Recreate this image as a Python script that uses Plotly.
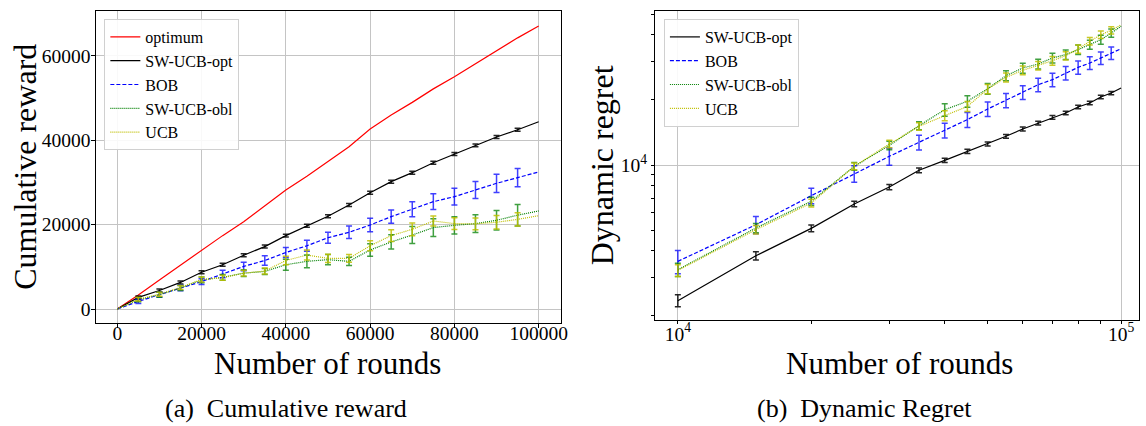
import plotly.graph_objects as go

# ---------------- Left panel: cumulative reward ----------------
rounds = [0, 5000, 10000, 15000, 20000, 25000, 30000, 35000, 40000, 45000, 50000,
          55000, 60000, 65000, 70000, 75000, 80000, 85000, 90000, 95000, 100000]

optimum = [0, 3300, 6900, 10400, 14000, 17400, 20700, 24400, 28200, 31500, 34900,
           38500, 42700, 46000, 49000, 52200, 55100, 58200, 61200, 64300, 67100]
sw_ucb_opt = [0, 2750, 4400, 6300, 8700, 10500, 12750, 14800, 17400, 19750, 22000,
              24670, 27590, 30200, 32330, 34700, 36770, 38800, 40800, 42500, 44400]
bob = [0, 1800, 3400, 5000, 6500, 8300, 10100, 11500, 13400, 15000, 16900,
       18190, 19920, 21900, 23650, 25450, 26640, 28230, 29810, 31150, 32500]
sw_ucb_obl = [0, 2200, 3400, 5000, 6900, 7500, 8500, 8900, 10500, 11300, 11700,
              11300, 14000, 15900, 17550, 19300, 19850, 20240, 21040, 22250, 23250]
ucb = [0, 2300, 3500, 5100, 7000, 7400, 8500, 9000, 11500, 12800, 12000,
       12000, 15000, 17400, 18900, 20870, 20240, 20200, 20570, 21250, 22130]

err_rounds = rounds[1:-1]
err_opt = [350] * 19
err_bob = [500, 600, 700, 700, 900, 1000, 1100, 1200, 1300, 1300,
           1500, 1580, 1580, 1780, 1860, 1980, 2000, 2170, 2170]
err_obl = [500, 600, 600, 700, 700, 800, 700, 1300, 1500, 1200,
           1000, 1470, 1700, 2000, 2100, 2050, 2100, 2300, 2560]
err_ucb = [400, 500, 500, 600, 600, 700, 700, 1000, 1200, 1000,
           900, 1200, 1400, 1500, 1200, 1400, 1400, 1600, 1580]

x_ticks_left = [0, 20000, 40000, 60000, 80000, 100000]
y_ticks_left = [0, 20000, 40000, 60000]

# ---------------- Right panel: dynamic regret (log-log) ----------------
rounds_r = [10000, 15000, 20000, 25000, 30000, 35000, 40000, 45000, 50000, 55000,
            60000, 65000, 70000, 75000, 80000, 85000, 90000, 95000, 100000]
reg_opt = [2355, 3800, 5090, 6600, 7910, 9450, 10510, 11570, 12510, 13580,
           14680, 15630, 16620, 17410, 18560, 19360, 20650, 21540, 22730]
reg_bob = [3580, 5290, 7210, 9120, 10970, 12740, 14470, 16220, 18160, 19920,
           21690, 23530, 24830, 26670, 28330, 29670, 31280, 33000, 34570]
reg_obl = [3275, 5110, 6790, 9860, 12330, 15210, 18030, 19720, 22550, 25920,
           28120, 29360, 31280, 32430, 34200, 36070, 38040, 40840, 43860]
reg_ucb = [3250, 5020, 6670, 9860, 12510, 15100, 16920, 18680, 22470, 25450,
           27440, 28840, 30400, 32070, 34450, 37410, 40100, 42050, 44640]

rerr_rounds = rounds_r[:-1]
rerr_opt = [150, 170, 180, 200, 220, 240, 250, 260, 270, 280, 300, 310, 320, 330, 340, 350, 360, 380]
rerr_bob = [440, 480, 600, 800, 1000, 1000, 1150, 1300, 1400, 1500, 1600, 1700, 1800, 1900, 2000, 2000, 2100, 2200]
rerr_obl = [230, 250, 300, 400, 550, 650, 1200, 1200, 1300, 1400, 1500, 1500, 1600, 1600, 1700, 1700, 1800, 1800]
rerr_ucb = [200, 230, 280, 350, 500, 600, 900, 1000, 1100, 1200, 1300, 1300, 1400, 1400, 1500, 1500, 1600, 1600]

x_ticks_right = [10000, 100000]
x_labels_right = ["10<sup>4</sup>", "10<sup>5</sup>"]
y_ticks_right = [10000]
y_labels_right = ["10<sup>4</sup>"]
minor_y_right = [2000, 3000, 4000, 5000, 6000, 7000, 8000, 9000, 20000, 30000, 40000, 50000]
minor_x_right = [20000, 30000, 40000, 50000, 60000, 70000, 80000, 90000]

FONT = "Liberation Serif"
W, H = 1146, 426

fig = go.Figure()

styles = {
    "optimum": dict(color="#ff0000", dash="solid"),
    "SW-UCB-opt": dict(color="#000000", dash="solid"),
    "BOB": dict(color="#0000ff", dash="4px,2px"),
    "SW-UCB-obl": dict(color="#008000", dash="1px,1px"),
    "UCB": dict(color="#bfbf00", dash="1px,1px"),
}
err_colors = {
    "SW-UCB-opt": "rgba(0,0,0,0.85)",
    "BOB": "rgba(0,0,255,0.75)",
    "SW-UCB-obl": "rgba(0,128,0,0.75)",
    "UCB": "rgba(191,191,0,0.85)",
}

left_series = [("optimum", optimum, None), ("SW-UCB-opt", sw_ucb_opt, err_opt),
               ("BOB", bob, err_bob), ("SW-UCB-obl", sw_ucb_obl, err_obl), ("UCB", ucb, err_ucb)]
for name, ys, errs in left_series:
    st = styles[name]
    fig.add_trace(go.Scatter(x=rounds, y=ys, mode="lines", name=name,
                             line=dict(color=st["color"], width=1.2, dash=st["dash"]),
                             xaxis="x", yaxis="y", legend="legend"))
for name, ys, errs in left_series:
    if errs is None:
        continue
    fig.add_trace(go.Scatter(x=err_rounds, y=ys[1:-1], mode="markers", showlegend=False,
                             marker=dict(size=1, opacity=0),
                             error_y=dict(type="data", array=errs, visible=True,
                                          color=err_colors[name], thickness=1.5, width=3),
                             xaxis="x3", yaxis="y", hoverinfo="skip"))

right_series = [("SW-UCB-opt", reg_opt, rerr_opt), ("BOB", reg_bob, rerr_bob),
                ("SW-UCB-obl", reg_obl, rerr_obl), ("UCB", reg_ucb, rerr_ucb)]
for name, ys, errs in right_series:
    st = styles[name]
    fig.add_trace(go.Scatter(x=rounds_r, y=ys, mode="lines", name=name,
                             line=dict(color=st["color"], width=1.2, dash=st["dash"]),
                             xaxis="x2", yaxis="y2", legend="legend2"))
for name, ys, errs in right_series:
    fig.add_trace(go.Scatter(x=rerr_rounds, y=ys[:-1], mode="markers", showlegend=False,
                             marker=dict(size=1, opacity=0),
                             error_y=dict(type="data", array=errs, visible=True,
                                          color=err_colors[name], thickness=1.5, width=3),
                             xaxis="x4", yaxis="y2", hoverinfo="skip"))

TICKFONT = dict(family=FONT, size=19.5, color="black")
frame = dict(showline=True, linecolor="black", linewidth=1, mirror=True,
             ticks="", ticklen=0, gridcolor="#c4c4c4", gridwidth=1, zeroline=False,
             tickfont=TICKFONT)

def marks(vals, length=4):
    return dict(tickvals=vals, ticks="outside", ticklen=length, tickwidth=1,
                tickcolor="black", showgrid=False)

xl0, xl1 = 97 / W, 564 / W
yl0, yl1 = 1 - 323 / H, 1 - 11 / H
xr0, xr1 = 659 / W, 1.0
yr0, yr1 = 1 - 320 / H, 1 - 11 / H
XL_RANGE = [-4950, 105190]
XR_RANGE = [3.9484, 5.0404]

leg_common = dict(font=dict(family=FONT, size=16, color="black"), bgcolor="rgba(255,255,255,0.9)",
                  bordercolor="#d0d0d0", borderwidth=1, xanchor="left", yanchor="top",
                  itemwidth=30)

label_axis = dict(showline=False, showgrid=False, zeroline=False, ticks="", ticklen=0,
                  ticklabelstandoff=0, tickfont=TICKFONT, anchor="free")

fig.update_layout(
    width=W, height=H, margin=dict(l=0, r=0, t=0, b=0),
    paper_bgcolor="white", plot_bgcolor="white",
    font=dict(family=FONT, color="black"),
    xaxis=dict(domain=[xl0, xl1], range=XL_RANGE, tickvals=x_ticks_left,
               showticklabels=False, minor=marks(x_ticks_left), anchor="y", **frame),
    yaxis=dict(domain=[yl0, yl1], range=[-3320, 70670],
               tickvals=y_ticks_left, ticktext=[str(v) for v in y_ticks_left],
               minor=marks(y_ticks_left), ticklabelstandoff=1, anchor="x", **frame),
    xaxis3=dict(domain=[xl0, xl1], range=XL_RANGE, overlaying="x", position=yl0 + 4 / H,
                tickvals=x_ticks_left, ticktext=[str(v) for v in x_ticks_left], **label_axis),
    xaxis2=dict(domain=[xr0, xr1], type="log", range=XR_RANGE, tickvals=x_ticks_right,
                showticklabels=False, minor=marks(x_ticks_right + minor_x_right, 3),
                anchor="y2", **frame),
    yaxis2=dict(domain=[yr0, yr1], type="log", range=[3.2824, 4.7130],
                tickvals=y_ticks_right, ticktext=y_labels_right,
                minor=marks(y_ticks_right + minor_y_right, 3),
                ticklabelstandoff=3, anchor="x2", **frame),
    xaxis4=dict(domain=[xr0, xr1], type="log", range=XR_RANGE, overlaying="x2",
                position=yr0, tickvals=x_ticks_right, ticktext=x_labels_right,
                **label_axis),
    legend=dict(x=105 / W, y=1 - 19 / H, **leg_common),
    legend2=dict(x=668 / W, y=1 - 19 / H, **leg_common),
    showlegend=True,
)

def ann(text, x, y, size, angle=0):
    fig.add_annotation(text=text, x=x / W, y=1 - y / H, xref="paper", yref="paper",
                       showarrow=False, textangle=angle, xanchor="center", yanchor="middle",
                       font=dict(family=FONT, size=size, color="black"))

ann("Cumulative reward", 25, 167, 32, -90)
ann("Number of rounds", 330, 363, 31)
ann("(a)&nbsp;&nbsp;Cumulative reward", 288, 408, 26)
ann("Dynamic regret", 606, 165, 32, -90)
ann("Number of rounds", 905, 363, 31)
ann("(b)&nbsp;&nbsp;Dynamic Regret", 870, 408, 26)

fig.write_html("out.html")
